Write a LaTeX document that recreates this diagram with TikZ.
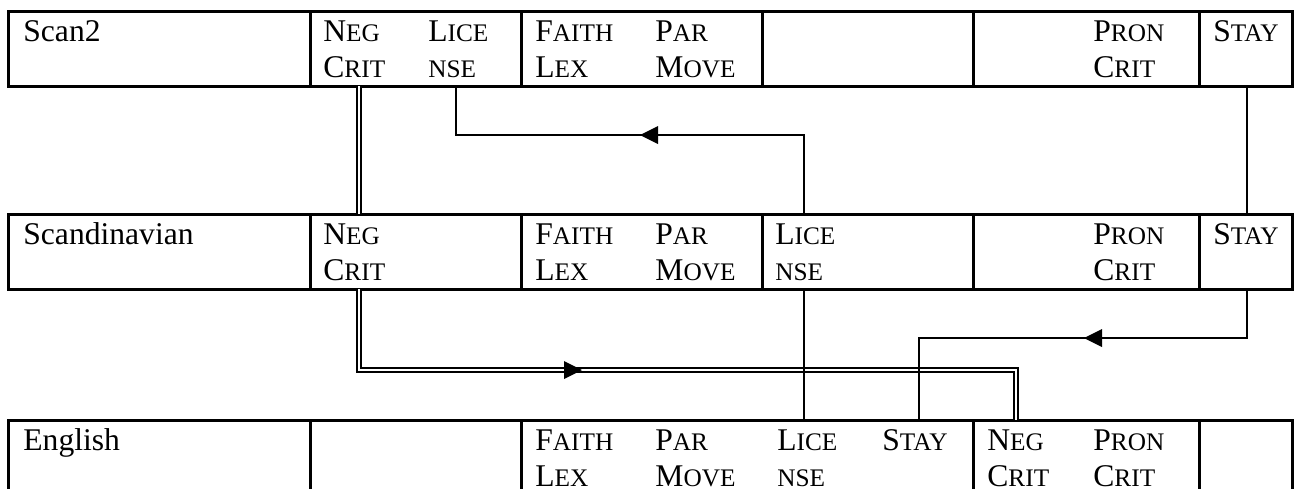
\documentclass[tikz,border=0pt]{standalone}
\usepackage{fontspec}
\setmainfont{Liberation Serif}
\usetikzlibrary{decorations.markings}

% faked small capitals: full-size initial, reduced capitals after it
\newcommand\sckap[2]{#1{\fontsize{12.64pt}{12.64pt}\selectfont #2}}
\newcommand\scall[1]{{\fontsize{12.64pt}{12.64pt}\selectfont #1}}

% a two-line cell entry: name, x, first baseline, line 1, line 2
\newcommand\tcell[5]{%
  \node[lbl] (#1a) at (#2,#3) {#4};
  \node[lbl] (#1b) at (#2,#3+36) {#5};}

\tikzset{
  rule/.style={line width=1.5pt},
  link/.style={line width=1pt},
  dbl/.style={double, double distance=1.3pt, line width=0.7pt},
  lbl/.style={anchor=base west, inner sep=0pt, font=\fontsize{15.8pt}{18pt}\selectfont},
  tipat/.style={postaction={decorate, decoration={markings,
      mark=at position #1 with {\fill[black] (0,0) -- (-9pt,4.5pt) -- (-9pt,-4.5pt) -- cycle;}}}},
}

\begin{document}
\begin{tikzpicture}[x=0.5pt,y=-0.5pt]
\useasboundingbox (0,0) rectangle (1294,488);
\clip (0,0) rectangle (1294,488);

% ---- table rows ----
\draw[rule] (8,11) rectangle (1292,86);
\foreach \x in {310,521,762,973,1199} \draw[rule] (\x,11) -- (\x,86);
\draw[rule] (8,214) rectangle (1292,289);
\foreach \x in {310,521,762,973,1199} \draw[rule] (\x,214) -- (\x,289);
\draw[rule] (8,420) rectangle (1292,494);
\foreach \x in {310,521,973,1199} \draw[rule] (\x,420) -- (\x,494);

% ---- Scan2 ----
\node[lbl] (s2lab) at (23,41) {Scan2};
\tcell{s2neg}{323}{41}{\sckap{N}{EG}}{\sckap{C}{RIT}}
\tcell{s2lic}{428}{41}{\sckap{L}{ICE}}{\scall{NSE}}
\tcell{s2fai}{535}{41}{\sckap{F}{AITH}}{\sckap{L}{EX}}
\tcell{s2par}{655}{41}{\sckap{P}{AR}}{\sckap{M}{OVE}}
\tcell{s2pro}{1093}{41}{\sckap{P}{RON}}{\sckap{C}{RIT}}
\node[lbl] (s2sty) at (1213,41) {\sckap{S}{TAY}};

% ---- Scandinavian ----
\node[lbl] (sclab) at (23,244) {Scandinavian};
\tcell{scneg}{323}{244}{\sckap{N}{EG}}{\sckap{C}{RIT}}
\tcell{scfai}{535}{244}{\sckap{F}{AITH}}{\sckap{L}{EX}}
\tcell{scpar}{655}{244}{\sckap{P}{AR}}{\sckap{M}{OVE}}
\tcell{sclic}{775}{244}{\sckap{L}{ICE}}{\scall{NSE}}
\tcell{scpro}{1093}{244}{\sckap{P}{RON}}{\sckap{C}{RIT}}
\node[lbl] (scsty) at (1213,244) {\sckap{S}{TAY}};

% ---- English ----
\node[lbl] (enlab) at (23,450) {English};
\tcell{enfai}{535}{450}{\sckap{F}{AITH}}{\sckap{L}{EX}}
\tcell{enpar}{655}{450}{\sckap{P}{AR}}{\sckap{M}{OVE}}
\tcell{enlic}{777}{450}{\sckap{L}{ICE}}{\scall{NSE}}
\node[lbl] (ensty) at (882,450) {\sckap{S}{TAY}};
\tcell{enneg}{987}{450}{\sckap{N}{EG}}{\sckap{C}{RIT}}
\tcell{enpro}{1093}{450}{\sckap{P}{RON}}{\sckap{C}{RIT}}

% ---- connector ends on the row borders ----
\coordinate (s2negS) at (359,86);
\coordinate (s2licS) at (456,86);
\coordinate (s2styS) at (1247,86);
\coordinate (scnegN) at (359,214);
\coordinate (sclicN) at (804,214);
\coordinate (scstyN) at (1247,214);
\coordinate (scnegS) at (359,289);
\coordinate (sclicS) at (804,289);
\coordinate (scstyS) at (1247,289);
\coordinate (enlicN) at (804,420);
\coordinate (enstyN) at (919,420);
\coordinate (ennegN) at (1016,420);

% ---- connectors ----
\draw[dbl] (s2negS) -- (scnegN);
\draw[link, tipat=121.5pt] (sclicN) -- ++(0,-79) -| (s2licS);
\draw[link] (s2styS) -- (scstyN);
\draw[dbl, tipat=152pt] (scnegS) -- ++(0,81) -| (ennegN);
\draw[link] (sclicS) -- (enlicN);
\draw[link, tipat=106pt] (scstyS) -- ++(0,49) -| (enstyN);
\end{tikzpicture}
\end{document}
